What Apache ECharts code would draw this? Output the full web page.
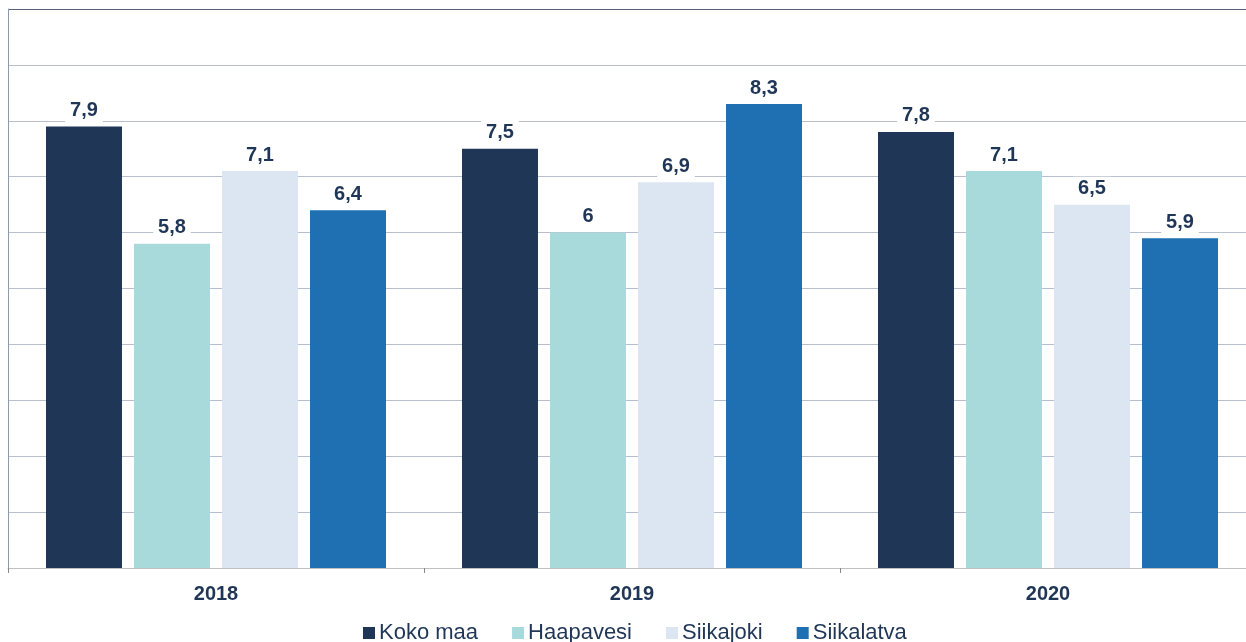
<!DOCTYPE html>
<html><head><meta charset="utf-8">
<script src="https://cdn.jsdelivr.net/npm/echarts@6/dist/echarts.min.js"></script>
<style>html,body{margin:0;padding:0;background:#fff;overflow:hidden}#c{width:1256px;height:642px}</style>
</head><body><div id="c"></div>
<script>
const categories = ['2018', '2019', '2020'];
const seriesNames = ['Koko maa', 'Haapavesi', 'Siikajoki', 'Siikalatva'];
const kokoMaa = [7.9, 7.5, 7.8];
const haapavesi = [5.8, 6.0, 7.1];
const siikajoki = [7.1, 6.9, 6.5];
const siikalatva = [6.4, 8.3, 5.9];
const colors = ['#1f3657', '#a8dadb', '#dce6f2', '#1f70b3'];
const values = [kokoMaa, haapavesi, siikajoki, siikalatva];

const chart = echarts.init(document.getElementById('c'));
const gridColors = ['#b9bfcc','#b9bfcc','#b9bfcc','#b9bfcc','#b9bfcc','#b9bfcc','#b9bfcc','#b9bfcc','#b9bfcc','#b9bfcc','#59647a'];
chart.setOption({
  animation: false,
  textStyle: {fontFamily: 'Liberation Sans, Arial, sans-serif'},
  grid: {left: 8, right: 0, top: 9, bottom: 74, containLabel: false},
  legend: {
    top: 617, left: 358, padding: 5, icon: 'rect', itemWidth: 12, itemHeight: 12, itemGap: 34,
    textStyle: {fontSize: 22, color: '#1f3657', padding: [0, 0, 0, -1]},
    data: seriesNames
  },
  xAxis: {
    type: 'category', data: categories,
    axisLine: {lineStyle: {color: '#c0c0c0', width: 1}},
    axisTick: {show: true, length: 5, lineStyle: {color: '#888'}},
    axisLabel: {fontSize: 20, fontWeight: 'bold', color: '#1f3657', margin: 16}
  },
  yAxis: {
    type: 'value', min: 0, max: 10, interval: 1,
    axisLabel: {show: false},
    axisLine: {show: true, lineStyle: {color: '#8d99ad'}},
    axisTick: {show: false},
    splitLine: {lineStyle: {color: gridColors, width: 1}}
  },
  series: values.map((v, i) => ({
    name: seriesNames[i], type: 'bar', data: v,
    barWidth: 76, barGap: '15.8%', barCategoryGap: '18.3%',
    itemStyle: {color: colors[i]},
    label: {
      show: true, position: 'top', distance: 4,
      formatter: p => String(p.value).replace('.', ','),
      fontSize: 20, fontWeight: 'bold', color: '#1f3657',
      backgroundColor: '#fff', padding: [2, 5, 2, 5]
    }
  }))
});
</script></body></html>
